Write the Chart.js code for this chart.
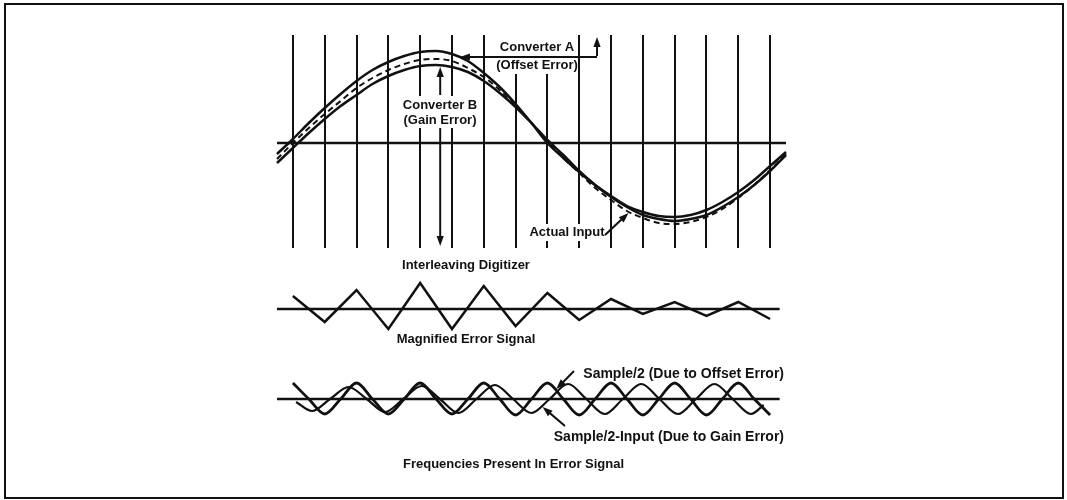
<!DOCTYPE html>
<html>
<head>
<meta charset="utf-8">
<script src="https://cdn.jsdelivr.net/npm/chart.js@4.4.0/dist/chart.umd.min.js"></script>
<style>
html,body{margin:0;padding:0;background:#fff;width:1067px;height:500px;overflow:hidden;}
.layer{position:absolute;left:0;top:0;width:1067px;height:500px;}
#frame{position:absolute;left:4px;top:3px;width:1060px;height:496px;border:2.5px solid #111;box-sizing:border-box;}
</style>
</head>
<body>
<div id="frame"></div>
<div class="layer"><canvas id="cTop" width="1067" height="500"></canvas></div>
<div class="layer"><canvas id="cMid" width="1067" height="500"></canvas></div>
<div class="layer"><canvas id="cBot" width="1067" height="500"></canvas></div>
<script>
// ---------- DATA ----------
// sample positions (in sample-clock units) for the top sine curves
const sampleX = [-0.5,0,0.5,1,1.5,2,2.5,3,3.5,4,4.5,5,5.5,6,6.5,7,7.5,8,8.5,9,9.5,10,10.5,11,11.5,12,12.5,13,13.5,14,14.5,15,15.5];
const converterA  = [-11,4,20,35,49,62,73,81,87,91,92,89,82,70,56,39,20,0,-15,-29,-42,-53,-63,-69,-73,-74,-72,-67,-59,-49,-37,-23,-9];
const actualInput = [-20,-5,10,24,37,48,59,67,73,77,78,76,71,62,50,36,20,3,-12,-28,-42,-54,-64,-72,-76,-78,-76,-72,-64,-54,-42,-28,-12];
const converterB  = [-16,0,15,29,42,55,65,73,79,83,84,82,75,66,53,37,20,2,-15,-30,-45,-57,-68,-75,-80,-81,-79,-74,-66,-55,-42,-27,-11];
// sample clock instants (vertical lines)
const clockX = [0,1,2,3,4,5,6,7,8,9,10,11,12,13,14,15];
// magnified error signal (one value per sample instant)
const errorX = [0,1,2,3,4,5,6,7,8,9,10,11,12,13,14,15];
const errorY = [13,-13,19,-20,26,-20,23,-17,16,-11,10,-5,7,-7,7,-10];
// Sample/2 component (offset error)
const offsetX = [0,0.5,1,1.5,2,2.5,3,3.5,4,4.5,5,5.5,6,6.5,7,7.5,8,8.5,9,9.5,10,10.5,11,11.5,12,12.5,13,13.5,14,14.5,15];
const offsetY = [16,0,-15,0,16,0,-15,0,16,0,-15,0,16,0,-16,0,16,0,-16,0,16,0,-16,0,16,0,-16,0,16,0,-16];
// Sample/2 - input component (gain error)
const gainX = [0.1,0.6,1.17,1.75,2.32,2.9,3.47,4.05,4.62,5.2,5.77,6.35,6.92,7.5,8.07,8.65,9.22,9.8,10.37,10.95,11.52,12.1,12.67,13.25,13.82,14.4,14.8];
const gainY = [-3,-12,0,12,0,-13,0,13,0,-14,0,14,0,-14,0,15,0,-15,0,15,0,-15,0,15,0,-15,-6];
// horizontal reference axes
const axisTopX = [-0.5,15.5];
const axisLowX = [-0.5,15.3];

// ---------- HELPERS ----------
const INK = '#111';
const FONT = 'bold 13px "Liberation Sans", Arial, sans-serif';
const FONT_BIG = 'bold 14px "Liberation Sans", Arial, sans-serif';
function pts(xs, ys){ return xs.map((x,i)=>({x:x, y:ys[i]})); }
function flat(xs){ return xs.map(x=>({x:x, y:0})); }
function arrow(ctx, x1, y1, x2, y2){
  const a = Math.atan2(y2-y1, x2-x1), L = 10, W = 3.6;
  ctx.beginPath(); ctx.moveTo(x1,y1); ctx.lineTo(x2-L*0.6*Math.cos(a), y2-L*0.6*Math.sin(a)); ctx.stroke();
  ctx.beginPath(); ctx.moveTo(x2,y2);
  ctx.lineTo(x2-L*Math.cos(a)+W*Math.sin(a), y2-L*Math.sin(a)-W*Math.cos(a));
  ctx.lineTo(x2-L*Math.cos(a)-W*Math.sin(a), y2-L*Math.sin(a)+W*Math.cos(a));
  ctx.closePath(); ctx.fill();
}
function text(ctx, s, x, y, align, font){
  ctx.font = font || FONT; ctx.fillStyle = INK; ctx.textAlign = align || 'center'; ctx.textBaseline = 'middle';
  ctx.fillText(s, x, y);
}
function lineDs(data, opts){
  return Object.assign({data:data, borderColor:INK, borderWidth:2.5, pointRadius:0, fill:false,
    cubicInterpolationMode:'monotone', clip:false}, opts||{});
}
const hiddenY = (min,max)=>({type:'linear', min:min, max:max, display:false});
const xNoGrid = {type:'linear', min:-0.5, max:15.5, display:false};
const baseOpts = {responsive:false, animation:false, events:[],
  plugins:{legend:{display:false}, tooltip:{enabled:false}, title:{display:false}}};

// ---------- TOP: interleaving digitizer ----------
const topNotes = {
  id:'topNotes',
  afterDatasetsDraw(chart){
    const ctx = chart.ctx, X = v=>chart.scales.x.getPixelForValue(v), Y = v=>chart.scales.y.getPixelForValue(v);
    ctx.save();
    ctx.fillStyle = '#fff';
    ctx.fillRect(497, 30, 79, 44);   // behind Converter A
    ctx.fillRect(401, 96, 78, 32);   // behind Converter B
    ctx.fillRect(528, 224, 78, 17);  // behind Actual Input
    ctx.strokeStyle = INK; ctx.fillStyle = INK; ctx.lineWidth = 2;
    // Converter A (offset error) pointer
    arrow(ctx, X(9.56), Y(86), X(5.25), Y(86));
    arrow(ctx, X(9.56), Y(87), X(9.56), Y(106));
    // Converter B (gain error) pointers
    arrow(ctx, X(4.63), Y(48), X(4.63), Y(76));
    arrow(ctx, X(4.63), Y(15), X(4.63), Y(-103));
    // Actual input pointer
    arrow(ctx, 605, 235, X(10.55), Y(-70));
    text(ctx, 'Converter A', 537, 47);
    text(ctx, '(Offset Error)', 537, 65);
    text(ctx, 'Converter B', 440, 105);
    text(ctx, '(Gain Error)', 440, 120);
    text(ctx, 'Actual Input', 567, 232);
    text(ctx, 'Interleaving Digitizer', 466, 265);
    ctx.restore();
  }
};
new Chart(document.getElementById('cTop'), {
  type:'line',
  data:{datasets:[
    lineDs(flat(axisTopX), {borderWidth:2.5, cubicInterpolationMode:'default', tension:0}),
    lineDs(pts(sampleX, actualInput)),
    lineDs(pts(sampleX, converterA)),
    lineDs(pts(sampleX, converterB), {borderWidth:2, borderDash:[6,4]})
  ]},
  options:Object.assign({}, baseOpts, {
    layout:{padding:{left:277, right:281, top:35, bottom:252}},
    scales:{
      x:{type:'linear', min:-0.5, max:15.5,
         afterBuildTicks:s=>{ s.ticks = clockX.map(v=>({value:v})); },
         ticks:{display:false}, border:{display:false},
         grid:{color:INK, lineWidth:2, drawTicks:false}},
      y:hiddenY(-105, 108)
    }
  }),
  plugins:[topNotes]
});

// ---------- MIDDLE: magnified error signal ----------
const midNotes = {
  id:'midNotes',
  afterDatasetsDraw(chart){
    const ctx = chart.ctx; ctx.save();
    text(ctx, 'Magnified Error Signal', 466, 339);
    ctx.restore();
  }
};
new Chart(document.getElementById('cMid'), {
  type:'line',
  data:{datasets:[
    lineDs(flat(axisLowX), {tension:0, cubicInterpolationMode:'default'}),
    lineDs(pts(errorX, errorY), {tension:0, cubicInterpolationMode:'default', borderJoinStyle:'miter'})
  ]},
  options:Object.assign({}, baseOpts, {
    layout:{padding:{left:277, right:281, top:279, bottom:161}},
    scales:{x:xNoGrid, y:hiddenY(-30, 30)}
  }),
  plugins:[midNotes]
});

// ---------- BOTTOM: frequencies present in error signal ----------
const botNotes = {
  id:'botNotes',
  afterDatasetsDraw(chart){
    const ctx = chart.ctx, X = v=>chart.scales.x.getPixelForValue(v), Y = v=>chart.scales.y.getPixelForValue(v);
    ctx.save(); ctx.strokeStyle = INK; ctx.fillStyle = INK; ctx.lineWidth = 2;
    arrow(ctx, 574, 371, X(8.28), Y(10));
    arrow(ctx, 565, 426, X(7.85), Y(-8));
    text(ctx, 'Sample/2 (Due to Offset Error)', 784, 374, 'right', FONT_BIG);
    text(ctx, 'Sample/2-Input (Due to Gain Error)', 784, 437, 'right', FONT_BIG);
    text(ctx, 'Frequencies Present In Error Signal', 403, 464, 'left');
    ctx.restore();
  }
};
new Chart(document.getElementById('cBot'), {
  type:'line',
  data:{datasets:[
    lineDs(flat(axisLowX), {tension:0, cubicInterpolationMode:'default'}),
    lineDs(pts(gainX, gainY), {borderWidth:2.2}),
    lineDs(pts(offsetX, offsetY), {borderWidth:2.8})
  ]},
  options:Object.assign({}, baseOpts, {
    layout:{padding:{left:277, right:281, top:379, bottom:81}},
    scales:{x:xNoGrid, y:hiddenY(-20, 20)}
  }),
  plugins:[botNotes]
});
</script>
</body>
</html>
